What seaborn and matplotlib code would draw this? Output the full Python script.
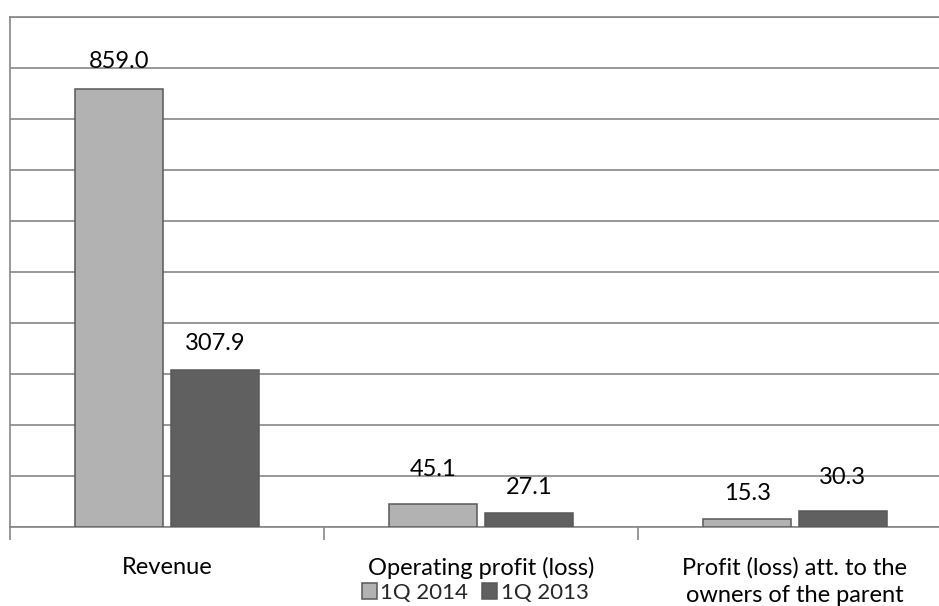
import matplotlib
matplotlib.use("Agg")
import matplotlib.pyplot as plt
from matplotlib.ticker import FixedLocator, MultipleLocator
import seaborn as sns
import pandas as pd

# Financial highlights, first quarter comparison
categories = ["Revenue", "Operating profit (loss)", "Profit (loss) att. to the\nowners of the parent"]
periods = ["1Q 2014", "1Q 2013"]
values_1q2014 = [859.0, 45.1, 15.3]
values_1q2013 = [307.9, 27.1, 30.3]

df = pd.DataFrame({
    "category": categories * 2,
    "period": [periods[0]] * 3 + [periods[1]] * 3,
    "value": values_1q2014 + values_1q2013,
})

sns.set_theme(style="white")
plt.rcParams["font.family"] = ["Lato", "DejaVu Sans"]

FS = 17

fig = plt.figure(figsize=(9.39, 6.06), dpi=100)
ax = fig.add_axes([10 / 939, 79.5 / 606, 942 / 939, 509.3 / 606])

grey = "#868686"
palette = {"1Q 2014": "#B2B2B2", "1Q 2013": "#606060"}

sns.barplot(
    data=df, x="category", y="value", hue="period",
    order=categories, hue_order=periods, palette=palette,
    width=0.611, gap=0.083, edgecolor="#595959", linewidth=1.1,
    saturation=1, legend=False, ax=ax, zorder=3,
)

ax.set_xlim(-0.5, 2.5)
ax.set_ylim(0, 1000)
ax.yaxis.set_major_locator(MultipleLocator(100))
ax.yaxis.grid(True, color=grey, linewidth=1.2, zorder=0)
ax.tick_params(axis="y", left=False, labelleft=False)

# category separators as ticks, labels centred between them
ax.xaxis.set_major_locator(FixedLocator([-0.5, 0.5, 1.5, 2.5]))
ax.xaxis.set_minor_locator(FixedLocator([0, 1, 2]))
ax.set_xticklabels([""] * 4)
ax.set_xticklabels(categories, minor=True)
ax.tick_params(axis="x", which="major", bottom=True, length=9, width=1.2, color=grey)
ax.tick_params(axis="x", which="minor", bottom=True, length=0, pad=22,
               labelsize=FS, labelcolor="black")
for lab in ax.get_xticklabels(minor=True):
    lab.set_verticalalignment("top")
    lab.set_linespacing(1.4)

ax.set_xlabel("")
ax.set_ylabel("")

for side in ["left", "bottom", "top"]:
    ax.spines[side].set_visible(True)
    ax.spines[side].set_color(grey)
    ax.spines[side].set_linewidth(1.2)
ax.spines["right"].set_visible(False)

# value labels above each bar
label_offsets = [[28, 34, 25.5], [26.5, 25.5, 34]]
for container, vals, offs in zip(ax.containers, [values_1q2014, values_1q2013], label_offsets):
    for bar, v, off in zip(container, vals, offs):
        ax.annotate(f"{v:.1f}", (bar.get_x() + bar.get_width() / 2, v),
                    xytext=(0, off), textcoords="offset pixels",
                    ha="center", va="center", fontsize=FS, color="black",
                    zorder=5, annotation_clip=False)

fig.legend(
    [ax.containers[0][0], ax.containers[1][0]], periods,
    loc="center", bbox_to_anchor=(475 / 939, 1 - 593 / 606),
    ncol=2, frameon=False, fontsize=16,
    handlelength=0.7, handleheight=0.7, handletextpad=0.15,
    columnspacing=0.6, borderaxespad=0, borderpad=0,
)

fig.savefig("out.png", dpi=100, facecolor="white")
